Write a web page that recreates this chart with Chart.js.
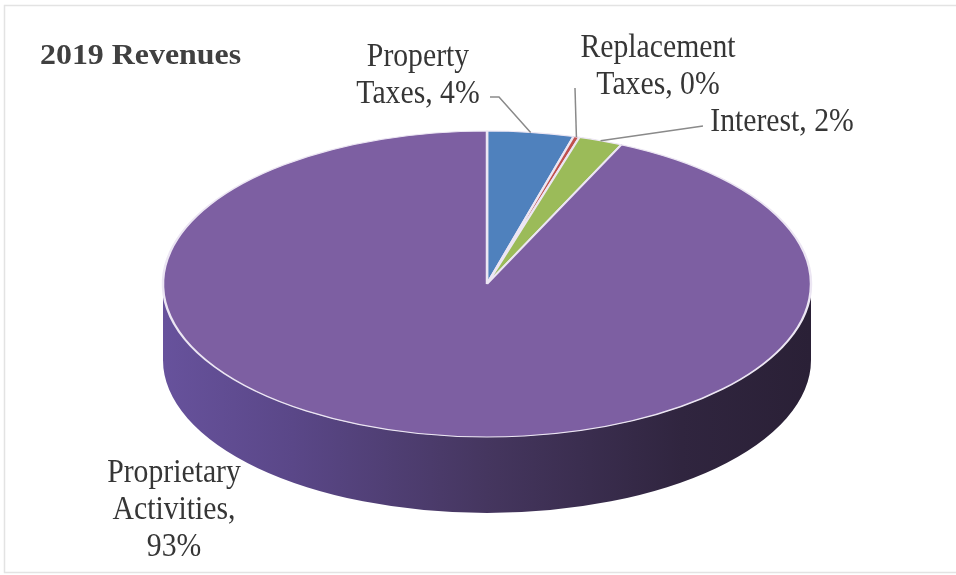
<!DOCTYPE html>
<html>
<head>
<meta charset="utf-8">
<script src="https://cdn.jsdelivr.net/npm/chart.js@4.4.1/dist/chart.umd.min.js"></script>
<style>
  html, body { margin: 0; padding: 0; background: #fff; }
  #wrap { width: 956px; height: 575px; }
</style>
</head>
<body>
<div id="wrap"><canvas id="myChart" width="956" height="575"></canvas></div>
<script>
// data
const categories = ['Property Taxes', 'Replacement Taxes', 'Interest', 'Proprietary Activities'];
const revenueShare = [4.3, 0.3, 2.2, 93.2];
const sliceColors = ['#4f81bd', '#c0504d', '#9bbb59', '#7d5fa2'];
const chartTitle = '2019 Revenues';

// look of the fake 3d pie
const squash = 153 / 324;
const depth = 76;
const labelFont = '33px "Liberation Serif"';
const labelStretch = 0.9;

// where the labels sit (center x, first baseline, wrap width, leader start points)
const labelLayout = [
  { cx: 418, base: 66, wrap: 130, lead: [[490, 97], [499, 97]] },
  { cx: 658, base: 57, wrap: 175, lead: [[575, 88]] },
  { cx: 782, base: 131, wrap: 220, lead: [[703, 126]] },
  { cx: 174, base: 482, wrap: 140, lead: null }
];

function wrapText(ctx, text, maxW) {
  const words = text.split(' ');
  const lines = [];
  let cur = '';
  words.forEach(w => {
    const t = cur ? cur + ' ' + w : w;
    if (cur && ctx.measureText(t).width * labelStretch > maxW) {
      lines.push(cur);
      cur = w;
    } else cur = t;
  });
  lines.push(cur);
  return lines;
}

const pie3d = {
  id: 'pie3d',
  beforeDatasetsDraw(chart) {
    const ctx = chart.ctx;
    const arcs = chart.getDatasetMeta(0).data;
    const x = arcs[0].x, y = arcs[0].y, r = arcs[0].outerRadius;
    ctx.save();
    ctx.translate(x, y);
    ctx.scale(1, squash);
    ctx.translate(-x, -y);
    const d = depth / squash;
    const g = ctx.createLinearGradient(x - r, 0, x + r, 0);
    g.addColorStop(0, '#67529c');
    g.addColorStop(0.2, '#5a4788');
    g.addColorStop(0.5, '#45365f');
    g.addColorStop(0.8, '#30253f');
    g.addColorStop(1, '#2a2036');
    arcs.forEach((a, i) => {
      // only the front half of the wall can be seen
      const s = Math.max(a.startAngle, 0);
      const e = Math.min(a.endAngle, Math.PI);
      if (e <= s) return;
      ctx.beginPath();
      ctx.arc(x, y, r, s, e);
      ctx.arc(x, y + d, r, e, s, true);
      ctx.closePath();
      ctx.fillStyle = g;
      ctx.fill();
    });
  },
  afterDatasetsDraw(chart) {
    const ctx = chart.ctx;
    ctx.restore();
    const arcs = chart.getDatasetMeta(0).data;
    const total = revenueShare.reduce((s, v) => s + v, 0);

    // frame
    ctx.save();
    ctx.strokeStyle = '#e3e3e3';
    ctx.lineWidth = 1.5;
    ctx.strokeRect(4.5, 5.5, 960, 567);

    // title
    ctx.fillStyle = '#404040';
    ctx.font = 'bold 29px "Liberation Serif"';
    ctx.textAlign = 'left';
    ctx.textBaseline = 'alphabetic';
    ctx.save();
    ctx.translate(40, 64);
    ctx.scale(1.1, 1);
    ctx.fillText(chartTitle, 0, 0);
    ctx.restore();

    // labels with leader lines
    ctx.font = labelFont;
    ctx.textAlign = 'center';
    categories.forEach((c, i) => {
      const L = labelLayout[i];
      const pct = Math.round(revenueShare[i] / total * 100);
      const lines = wrapText(ctx, c + ', ' + pct + '%', L.wrap);
      ctx.fillStyle = '#363636';
      lines.forEach((ln, j) => {
        ctx.save();
        ctx.translate(L.cx, L.base + j * 37);
        ctx.scale(labelStretch, 1);
        ctx.fillText(ln, 0, 0);
        ctx.restore();
      });
      if (L.lead) {
        const a = arcs[i];
        const mid = (a.startAngle + a.endAngle) / 2;
        const ex = a.x + a.outerRadius * Math.cos(mid);
        const ey = a.y + a.outerRadius * Math.sin(mid) * squash;
        ctx.beginPath();
        ctx.moveTo(L.lead[0][0], L.lead[0][1]);
        for (let k = 1; k < L.lead.length; k++) ctx.lineTo(L.lead[k][0], L.lead[k][1]);
        ctx.lineTo(ex, ey);
        ctx.strokeStyle = '#8a8a8a';
        ctx.lineWidth = 1.5;
        ctx.stroke();
      }
    });
    ctx.restore();
  }
};

const ctx = document.getElementById('myChart').getContext('2d');
const myChart = new Chart(ctx, {
  type: 'pie',
  data: {
    labels: categories,
    datasets: [{
      data: revenueShare,
      backgroundColor: sliceColors,
      borderColor: '#ece6f3',
      borderWidth: 2.5,
      clip: false
    }]
  },
  options: {
    responsive: false,
    animation: false,
    events: [],
    radius: 324,
    layout: { padding: { left: 18, right: 0, top: 0, bottom: 7 } },
    plugins: {
      legend: { display: false },
      tooltip: { enabled: false }
    }
  },
  plugins: [pie3d]
});
</script>
</body>
</html>
